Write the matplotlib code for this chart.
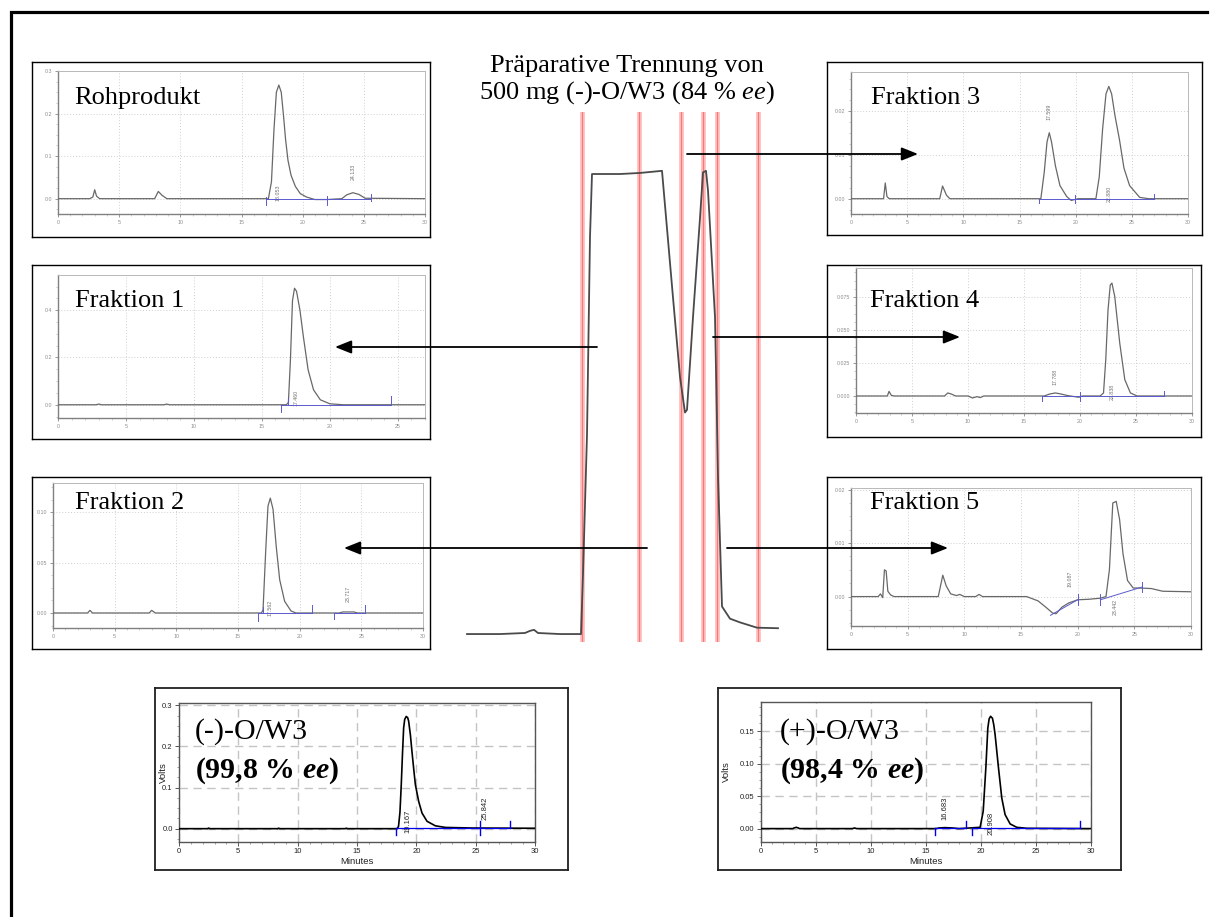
import matplotlib
matplotlib.use("Agg")
import matplotlib.pyplot as plt
from matplotlib.ticker import AutoMinorLocator, FormatStrFormatter, MultipleLocator

W, H = 1211, 917
SERIF = "Liberation Serif"
SANS = "Liberation Sans"

plt.rcParams.update({
    "font.family": SANS,
    "mathtext.fontset": "custom",
    "mathtext.rm": SERIF,
    "mathtext.it": SERIF + ":italic",
    "mathtext.bf": SERIF + ":bold",
    "mathtext.bfit": SERIF + ":italic:bold",
})

# ---- analytical HPLC traces (minutes, volts) ----
ROH_TRACE = [(0, 0), (2.6, 0), (2.85, 0.004), (3.0, 0.021), (3.15, 0.006), (3.4, 0),
             (7.9, 0), (8.2, 0.017), (8.5, 0.008), (8.9, 0), (17.2, 0), (17.45, 0.04),
             (17.65, 0.16), (17.85, 0.25), (18.05, 0.267), (18.25, 0.25), (18.45, 0.19),
             (18.6, 0.14), (18.8, 0.09), (19.05, 0.055), (19.4, 0.029), (19.8, 0.012),
             (20.3, 0.004), (21.0, -0.002), (22.0, -0.002), (23.2, 0), (23.6, 0.009),
             (24.1, 0.014), (24.6, 0.01), (25.1, 0.001), (30, 0)]
ROH_BLUE = [((17.0, 0.0), (25.6, 0.0))]
ROH_MARKS = [(17.0, -0.016, 0.005), (22.0, -0.014, 0.006), (25.6, -0.005, 0.012)]
ROH_LABELS = [("18.053", 17.95, 0.013), ("24.133", 24.15, 0.064)]

F1_TRACE = [(0, 0), (2.8, 0), (3.0, 0.003), (3.2, 0), (7.8, 0), (8.0, 0.003), (8.2, 0),
            (16.8, 0), (16.95, 0.01), (17.1, 0.19), (17.25, 0.44), (17.4, 0.493),
            (17.55, 0.48), (17.8, 0.40), (18.05, 0.289), (18.4, 0.148), (18.8, 0.063),
            (19.3, 0.021), (20.0, 0.004), (21, 0), (27, 0)]
F1_BLUE = [((16.4, 0), (24.5, 0))]
F1_MARKS = [(16.4, -0.03, 0.0), (16.9, 0.0, 0.03), (24.5, 0.0, 0.035)]
F1_LABELS = [("17.460", 17.5, 0.028)]

F2_TRACE = [(0, 0), (2.8, 0), (3.0, 0.0026), (3.2, 0), (7.8, 0), (8.0, 0.0026), (8.3, 0),
            (16.9, 0), (17.03, 0.003), (17.24, 0.06), (17.43, 0.106), (17.62, 0.114),
            (17.84, 0.103), (18.1, 0.066), (18.38, 0.033), (18.78, 0.0116), (19.3, 0.002),
            (19.7, 0), (23.2, 0), (23.5, 0.001), (24.4, 0.001), (24.7, 0), (30, 0)]
F2_BLUE = [((16.6, 0), (21.0, 0)), ((22.8, 0), (25.3, 0))]
F2_MARKS = [(16.6, -0.008, 0), (17.0, 0, 0.006), (21.0, 0, 0.008), (22.8, -0.006, 0), (25.3, 0, 0.008)]
F2_LABELS = [("17.562", 17.6, 0.005), ("23.717", 23.9, 0.019)]

F3_TRACE = [(0, 0), (2.9, 0), (3.05, 0.0036), (3.2, 0.0005), (3.4, 0), (7.9, 0),
            (8.15, 0.0029), (8.5, 0.0008), (8.8, 0), (16.9, 0), (17.2, 0.006),
            (17.45, 0.013), (17.65, 0.0151), (17.85, 0.013), (18.2, 0.0075), (18.6, 0.003),
            (19.2, 0.0005), (19.6, -0.0004), (20.2, 0), (21.8, 0), (22.1, 0.005),
            (22.4, 0.016), (22.7, 0.024), (22.95, 0.0257), (23.2, 0.024), (23.5, 0.019),
            (23.9, 0.0135), (24.3, 0.007), (24.8, 0.003), (25.7, 0.0003), (26.5, 0), (30, 0)]
F3_BLUE = [((16.7, 0), (27.0, 0))]
F3_MARKS = [(16.7, -0.001, 0), (19.9, -0.001, 0.0008), (27.0, 0, 0.001)]
F3_LABELS = [("17.599", 17.65, 0.0198), ("22.880", 22.95, 0.001)]

F4_TRACE = [(0, 0), (2.8, 0), (2.95, 0.0035), (3.15, 0.0005), (3.4, 0), (7.9, 0),
            (8.2, 0.0023), (8.5, 0.0015), (8.9, 0), (10.0, 0), (10.4, -0.0015),
            (10.8, -0.0005), (11.1, -0.0012), (11.4, 0), (16.8, 0), (17.3, 0.0015),
            (17.8, 0.0023), (18.3, 0.0015), (18.9, 0.0003), (19.9, -0.001), (20.2, 0),
            (21.8, 0), (22.1, 0.0023), (22.3, 0.0275), (22.5, 0.065), (22.7, 0.084),
            (22.85, 0.0856), (23.1, 0.0755), (23.55, 0.040), (24.0, 0.0124), (24.5, 0.0023),
            (25.1, 0), (30, 0)]
F4_BLUE = [((16.6, 0), (27.5, 0))]
F4_MARKS = [(16.6, -0.004, 0), (20.0, -0.004, 0.003), (27.5, 0, 0.004)]
F4_LABELS = [("17.788", 17.8, 0.0144), ("22.838", 22.85, 0.003)]

F5_TRACE = [(0, 0), (2.4, 0), (2.6, 0.0005), (2.8, -0.0002), (2.95, 0.005), (3.1, 0.0048),
            (3.25, 0.001), (3.5, 0.0003), (3.8, 0), (7.7, 0), (7.9, 0.002), (8.1, 0.004),
            (8.4, 0.002), (8.8, 0.0005), (9.3, 0.0002), (9.6, 0.0004), (10.0, 0), (11.0, 0),
            (11.3, 0.0004), (11.6, 0), (15.5, 0), (16.5, -0.0008), (17.2, -0.002),
            (17.8, -0.0031), (18.1, -0.0032), (18.6, -0.002), (19.2, -0.0012), (20.0, -0.0006),
            (21.0, -0.0005), (22.0, -0.0003), (22.5, 0.0), (22.8, 0.005), (23.1, 0.0175),
            (23.4, 0.0178), (23.7, 0.0144), (24.0, 0.008), (24.4, 0.003), (24.9, 0.0016),
            (25.5, 0.0016), (26.5, 0.0015), (27.5, 0.001), (30, 0.0009)]
F5_BLUE = [((17.6, -0.0035), (20.0, -0.0006)), ((22.0, -0.0006), (25.7, 0.0018))]
F5_MARKS = [(20.0, -0.0015, 0.0005), (22.0, -0.0016, 0.0004), (25.7, 0.0008, 0.0028)]
F5_LABELS = [("19.087", 19.3, 0.0034), ("23.442", 23.3, -0.0019)]

MINUS_TRACE = [(0, 0), (2.4, 0), (2.5, 0.0015), (2.6, 0), (8.3, 0), (8.4, 0.0012), (8.5, 0),
               (14.0, 0), (14.1, 0.0012), (14.2, 0), (18.4, 0), (18.5, 0.006), (18.62, 0.04),
               (18.73, 0.107), (18.83, 0.18), (18.93, 0.245), (19.02, 0.266), (19.15, 0.273),
               (19.27, 0.27), (19.35, 0.262), (19.5, 0.228), (19.63, 0.188), (19.78, 0.145),
               (19.92, 0.107), (20.2, 0.066), (20.48, 0.038), (20.9, 0.018), (21.6, 0.007),
               (22.45, 0.003), (24.7, 0.0016), (30, 0.001)]
MINUS_BLUE = [((18.3, 0.002), (27.9, 0.002))]
MINUS_MARKS = [(18.3, -0.016, 0.002), (25.4, -0.016, 0.019), (27.9, 0.002, 0.019)]
MINUS_LABELS = [("19.167", 19.27, 0.018), ("25.842", 25.8, 0.05)]

PLUS_TRACE = [(0, 0), (2.9, 0), (3.0, 0.001), (3.2, 0.002), (3.4, 0.001), (3.5, 0),
              (8.3, 0), (8.5, 0.001), (8.7, 0), (15.9, 0), (16.2, 0.001), (16.7, 0.0015),
              (17.4, 0.001), (18.0, 0), (19.92, 0.002), (20.2, 0.0267), (20.44, 0.0935),
              (20.62, 0.155), (20.74, 0.169), (20.87, 0.173), (21.04, 0.170), (21.16, 0.16),
              (21.28, 0.145), (21.59, 0.0935), (21.89, 0.047), (22.19, 0.0216),
              (22.65, 0.0072), (23.25, 0.002), (24.16, 0.0005), (30, 0)]
PLUS_BLUE = [((15.8, 0.001), (18.6, 0.001)), ((19.2, 0.0005), (29.0, 0.0005))]
PLUS_MARKS = [(15.8, -0.010, 0.001), (18.6, 0.001, 0.012), (19.2, -0.010, 0.0005), (29.0, 0.0005, 0.012)]
PLUS_LABELS = [("16.683", 16.7, 0.0308), ("20.908", 20.9, 0.0087)]

# ---- preparative run (arbitrary time units, relative detector signal) ----
PREP_TRACE = [(0.7, 0.015), (4.0, 0.015), (6.5, 0.017), (7.0, 0.021), (7.4, 0.023),
              (7.8, 0.017), (10.0, 0.015), (12.1, 0.015), (12.3, 0.128), (12.7, 0.391),
              (13.0, 0.764), (13.2, 0.883), (16.0, 0.883), (18.0, 0.885), (20.2, 0.889),
              (21.3, 0.650), (22.0, 0.500), (22.5, 0.433), (22.7, 0.438), (23.3, 0.613),
              (24.0, 0.800), (24.3, 0.886), (24.6, 0.889), (24.8, 0.852), (25.5, 0.613),
              (25.8, 0.313), (26.2, 0.067), (27.0, 0.044), (28.0, 0.037), (29.7, 0.027),
              (31.8, 0.026)]
CUT_TIMES = [12.2, 17.9, 22.1, 24.3, 25.7, 29.8]


def px_rect(box):
    """Pixel box (x0, y0, x1, y1), y downwards, -> figure fraction rect."""
    x0, y0, x1, y1 = box
    return [x0 / W, 1 - y1 / H, (x1 - x0) / W, (y1 - y0) / H]


def chrom_panel(fig, box, inner, trace, blue, marks, labels, xmax, ylim, yticks, yfmt,
                volts_x=None):
    big = volts_x is not None
    frame = fig.add_axes(px_rect(box), zorder=1)
    frame.set_xticks([])
    frame.set_yticks([])
    for sp in frame.spines.values():
        sp.set_color("#202020" if big else "black")
        sp.set_linewidth(1.3 if big else 1.0)

    ax = fig.add_axes(px_rect(inner), zorder=2)
    ax.set_facecolor("none")
    t, v = zip(*trace)
    bc = "#0000ee" if big else "#5a5ad0"
    ax.plot(t, v, color="black" if big else "#686868", lw=1.2 if big else 0.9, zorder=3)
    for (x0, y0), (x1, y1) in blue:
        ax.plot([x0, x1], [y0, y1], color=bc, lw=0.9 if big else 0.7, zorder=4)
    for x, y0, y1 in marks:
        ax.plot([x, x], [y0, y1], color=bc, lw=1.0 if big else 0.7, zorder=4)
    for txt, x, y in labels:
        ax.text(x, y, txt, rotation=90, ha="center", va="center",
                fontsize=5.5 if big else 3.8, color="#222222" if big else "#707070")

    ax.set_xlim(0, xmax)
    ax.set_ylim(*ylim)
    ax.set_xticks(range(0, int(xmax) + 1, 5))
    ax.set_yticks(yticks)
    ax.yaxis.set_major_formatter(FormatStrFormatter(yfmt))
    ax.xaxis.set_minor_locator(MultipleLocator(1))
    ax.yaxis.set_minor_locator(AutoMinorLocator(4))

    if big:
        ax.grid(True, which="major", color="#c4c4c4", lw=1.0, ls=(0, (6, 4)))
        for sp in ax.spines.values():
            sp.set_color("#555555")
            sp.set_linewidth(1.0)
        ax.tick_params(which="major", labelsize=5.5, length=3, width=0.7, color="#555555",
                       labelcolor="#222222", pad=1.5)
        ax.tick_params(which="minor", length=1.5, width=0.5, color="#777777")
        ax.set_xlabel("Minutes", fontsize=6.8, labelpad=1, color="#222222")
        ax.set_ylabel("Volts", fontsize=6.8, color="#222222")
        x0, _, x1, _ = inner
        ax.yaxis.set_label_coords((volts_x - x0) / (x1 - x0), 0.5)
    else:
        ax.grid(True, which="major", color="#cfcfcf", lw=0.7, ls=(0, (1, 2)))
        for name, sp in ax.spines.items():
            sp.set_color("#808080" if name in ("left", "bottom") else "#b8b8b8")
            sp.set_linewidth(1.0 if name in ("left", "bottom") else 0.7)
        ax.tick_params(which="major", labelsize=3.8, length=2, width=0.6, color="#888888",
                       labelcolor="#8c8c8c", pad=2)
        ax.tick_params(which="minor", length=1.2, width=0.4, color="#aaaaaa")
    return ax


fig = plt.figure(figsize=(W / 100, H / 100), dpi=100)

# analytical chromatograms of the crude product and of the fractions
chrom_panel(fig, (32, 62, 430, 237), (58, 71, 425, 214), ROH_TRACE, ROH_BLUE, ROH_MARKS,
            ROH_LABELS, 30, (-0.036, 0.3), [0, 0.1, 0.2, 0.3], "%.1f")
chrom_panel(fig, (827, 62, 1202, 235), (851, 72, 1188, 214), F3_TRACE, F3_BLUE, F3_MARKS,
            F3_LABELS, 30, (-0.0035, 0.029), [0, 0.01, 0.02], "%.2f")
chrom_panel(fig, (32, 265, 430, 439), (58, 275, 425, 418), F1_TRACE, F1_BLUE, F1_MARKS,
            F1_LABELS, 27, (-0.056, 0.549), [0, 0.2, 0.4], "%.1f")
chrom_panel(fig, (827, 265, 1201, 437), (856, 268, 1192, 413), F4_TRACE, F4_BLUE, F4_MARKS,
            F4_LABELS, 30, (-0.0129, 0.097), [0, 0.025, 0.05, 0.075], "%.3f")
chrom_panel(fig, (32, 477, 430, 649), (53, 483, 423, 628), F2_TRACE, F2_BLUE, F2_MARKS,
            F2_LABELS, 30, (-0.0149, 0.129), [0, 0.05, 0.10], "%.2f")
chrom_panel(fig, (827, 477, 1201, 649), (851, 488, 1191, 626), F5_TRACE, F5_BLUE, F5_MARKS,
            F5_LABELS, 30, (-0.0055, 0.0203), [0, 0.01, 0.02], "%.2f")
chrom_panel(fig, (155, 688, 568, 870), (179, 703, 535, 842), MINUS_TRACE, MINUS_BLUE,
            MINUS_MARKS, MINUS_LABELS, 30, (-0.0324, 0.3057), [0, 0.1, 0.2, 0.3], "%.1f",
            volts_x=168)
chrom_panel(fig, (718, 688, 1121, 870), (761, 702, 1091, 842), PLUS_TRACE, PLUS_BLUE,
            PLUS_MARKS, PLUS_LABELS, 30, (-0.0206, 0.195), [0, 0.05, 0.10, 0.15], "%.2f",
            volts_x=731)

# preparative separation with the fraction cuts
prep = fig.add_axes(px_rect((460, 112, 790, 642)), zorder=3)
prep.set_facecolor("none")
pt, pv = zip(*PREP_TRACE)
for c in CUT_TIMES:
    prep.axvline(c, color="#ffbcbc", lw=3.4, zorder=1)
    prep.axvline(c, color="#f27a7a", lw=0.8, zorder=1)
prep.plot(pt, pv, color="#4a4a4a", lw=1.3, zorder=2)
prep.set_xlim(0, 33)
prep.set_ylim(0, 1)
prep.axis("off")

# overlay in pixel coordinates: headings, arrows, outer frame
ov = fig.add_axes([0, 0, 1, 1], zorder=10)
ov.set_facecolor("none")
ov.set_xlim(0, W)
ov.set_ylim(H, 0)
ov.axis("off")

ov.text(627, 66, "Präparative Trennung von", family=SERIF, fontsize=19,
        ha="center", va="center")
ov.text(627, 93, r"500 mg (-)-O/W3 (84 % $\mathit{ee}$)", family=SERIF, fontsize=19,
        ha="center", va="center")

panel_titles = [("Rohprodukt", 74, 98), ("Fraktion 3", 871, 98), ("Fraktion 1", 75, 301),
                ("Fraktion 4", 870, 301), ("Fraktion 2", 75, 503), ("Fraktion 5", 870, 503)]
for s, x, y in panel_titles:
    ov.text(x, y, s, family=SERIF, fontsize=19, ha="left", va="center")

for x, name, pct in [(195, "(-)-O/W3", "99,8"), (780, "(+)-O/W3", "98,4")]:
    ov.text(x, 732, name, family=SERIF, fontsize=21.5, ha="left", va="center")
    ov.text(x, 771, "(" + pct + r" % $\mathbfit{ee}$)", family=SERIF, fontsize=21.5,
            fontweight="bold", ha="left", va="center")

arrows = [((687, 154), (918, 154)), ((597, 347), (335, 347)), ((713, 337), (960, 337)),
          ((647, 548), (344, 548)), ((727, 548), (948, 548))]
for start, end in arrows:
    ov.annotate("", xy=end, xytext=start,
                arrowprops=dict(arrowstyle="-|>,head_length=1.0,head_width=0.4",
                                mutation_scale=10, lw=1.3, color="black",
                                shrinkA=0, shrinkB=0))

ov.plot([11, 11, 1207], [H, 12, 12], color="black", lw=2.3, solid_joinstyle="miter")

fig.savefig("out.png", dpi=100)
